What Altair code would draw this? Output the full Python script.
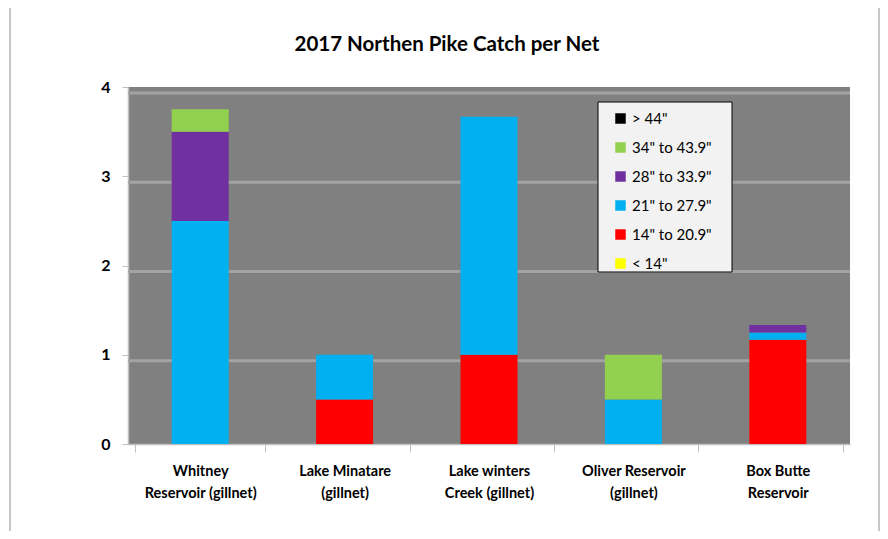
import altair as alt
import pandas as pd

sites = [
    "Whitney\nReservoir (gillnet)",
    "Lake Minatare\n(gillnet)",
    "Lake winters\nCreek (gillnet)",
    "Oliver Reservoir\n(gillnet)",
    "Box Butte\nReservoir",
]
size_classes = ['< 14"', '14" to 20.9"', '21" to 27.9"', '28" to 33.9"', '34" to 43.9"', '> 44"']
colors = ["#FFFF00", "#FF0000", "#00B0F0", "#7030A0", "#92D050", "#000000"]

lt14 = [0, 0, 0, 0, 0]
s14_20 = [0, 0.5, 1.0, 0, 1.167]
s21_27 = [2.5, 0.5, 2.667, 0.5, 0.083]
s28_33 = [1.0, 0, 0, 0, 0.083]
s34_43 = [0.25, 0, 0, 0.5, 0]
gt44 = [0, 0, 0, 0, 0]

title_text = "2017 Northen Pike Catch per Net"

series = [lt14, s14_20, s21_27, s28_33, s34_43, gt44]
rows = []
for ci, (cls, vals) in enumerate(zip(size_classes, series)):
    for si, site in enumerate(sites):
        rows.append({"site": site, "cls": cls, "order": ci, "value": vals[si]})
df = pd.DataFrame(rows)

grid_vals = [1, 2, 3, 4]
grid_df = pd.DataFrame({"v": grid_vals})

font = "Lato"
one = pd.DataFrame({"a": [0]})

border = alt.Chart(one).mark_rect(
    fill=None, stroke="#a0a0a0", strokeWidth=1.2, clip=False
).encode(
    x=alt.value(-118), x2=alt.value(751), y=alt.value(-80), y2=alt.value(480)
)

title = alt.Chart(pd.DataFrame({"t": [title_text]})).mark_text(
    font=font, fontSize=20.5, fontWeight="bold", color="#000000",
    align="center", baseline="middle", clip=False
).encode(text="t:N", x=alt.value(319), y=alt.value(-42))

legend_box = alt.Chart(one).mark_rect(
    fill="#f2f2f2", stroke="#000000", strokeWidth=1
).encode(
    x=alt.value(470), x2=alt.value(604), y=alt.value(15), y2=alt.value(185)
)

grid = alt.Chart(grid_df).mark_rule(color="#a3a3a3", strokeWidth=3, yOffset=6).encode(
    y=alt.Y("v:Q", scale=alt.Scale(domain=[0, 4]))
)

bars = alt.Chart(df).mark_bar(size=57).encode(
    x=alt.X(
        "site:N",
        sort=sites,
        title=None,
        axis=alt.Axis(
            labelAngle=0,
            labelExpr="split(datum.label, '\\n')",
            labelFont=font,
            labelFontSize=14.5,
            labelFontWeight="bold",
            labelColor="#000000",
            labelLineHeight=22,
            labelPadding=12,
            tickBand="extent",
            tickSize=8,
            tickColor="#bfbfbf",
            domainColor="#bfbfbf",
            domainWidth=1.5,
        ),
    ),
    y=alt.Y(
        "value:Q",
        stack="zero",
        scale=alt.Scale(domain=[0, 4]),
        title=None,
        axis=alt.Axis(
            values=[0, 1, 2, 3, 4],
            format="d",
            grid=False,
            labelFont=font,
            labelFontSize=16,
            labelFontWeight="bold",
            labelColor="#000000",
            labelPadding=12,
            tickSize=6,
            tickColor="#bfbfbf",
            domainColor="#bfbfbf",
            domainWidth=1.5,
        ),
    ),
    color=alt.Color(
        "cls:N",
        scale=alt.Scale(domain=size_classes, range=colors),
        sort=list(reversed(size_classes)),
        title=None,
        legend=alt.Legend(
            orient="none",
            legendX=470,
            legendY=18,
            values=list(reversed(size_classes)),
            symbolType="square",
            symbolSize=110,
            symbolStrokeWidth=0,
            labelFont=font,
            labelFontSize=15,
            labelColor="#000000",
            rowPadding=13,
            padding=6,
            symbolOffset=9,
            labelLimit=200,
        ),
    ),
    order=alt.Order("order:Q", sort="ascending"),
)

chart = alt.layer(border, title, grid, bars, legend_box).properties(
    width=722,
    height=357,
    autosize=alt.AutoSizeParams(type="none"),
    padding={"left": 120, "top": 79, "right": 30, "bottom": 87},
).configure(background="white").configure_view(fill="#808080", stroke=None)

chart.save("out.html", embed_options={"renderer": "svg", "actions": False})
